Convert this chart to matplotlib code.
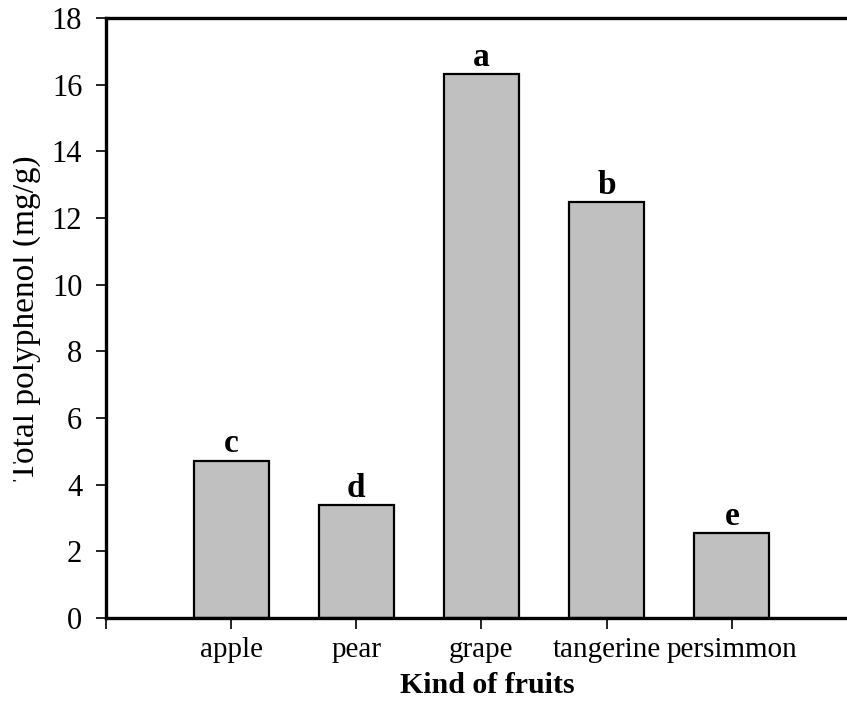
import matplotlib.pyplot as plt
from matplotlib.transforms import Bbox, TransformedBbox

# Data
fruits = ['apple', 'pear', 'grape', 'tangerine', 'persimmon']
polyphenol = [4.72, 3.39, 16.31, 12.47, 2.54]
letters = ['c', 'd', 'a', 'b', 'e']

plt.rcParams['font.family'] = ['Liberation Serif', 'DejaVu Serif']

fig = plt.figure(figsize=(8.47, 7.05), dpi=100)
ax = fig.add_axes([0.1251, 0.1234, 0.8749, 0.8511])

positions = list(range(1, len(fruits) + 1))
ax.bar(positions, polyphenol, width=0.6, color='#c0c0c0',
       edgecolor='black', linewidth=1.6, zorder=2)

# Significance letters above each bar
for pos, val, let in zip(positions, polyphenol, letters):
    ax.annotate(let, (pos, val), xytext=(0, 6), textcoords='offset points',
                ha='center', va='baseline', fontsize=24, fontweight='bold')

ax.set_xlim(0, 5.92)
ax.set_ylim(0, 18)
ax.set_yticks(range(0, 19, 2))
ax.set_xticks([0] + positions)
ax.set_xticklabels([''] + fruits)

for side in ['left', 'bottom', 'top']:
    ax.spines[side].set_linewidth(2.4)
ax.spines['right'].set_visible(False)

ax.tick_params(axis='y', direction='out', length=7, width=1.2,
               labelsize=22, pad=10)
ax.tick_params(axis='x', direction='out', length=8, width=1.2,
               labelsize=21, pad=6)

# y label is cut off at its left edge in the original
ylab = fig.text(0.030, 0.549, 'Total polyphenol (mg/g)', rotation=90,
                ha='center', va='center', fontsize=24)
ylab.set_clip_box(TransformedBbox(Bbox([[13 / 847, 0], [1, 1]]), fig.transFigure))
ylab.set_clip_on(True)

fig.text(0.575, 0.028, 'Kind of fruits', ha='center', va='center',
         fontsize=21.5, fontweight='bold')

fig.savefig('out.png', dpi=100)
